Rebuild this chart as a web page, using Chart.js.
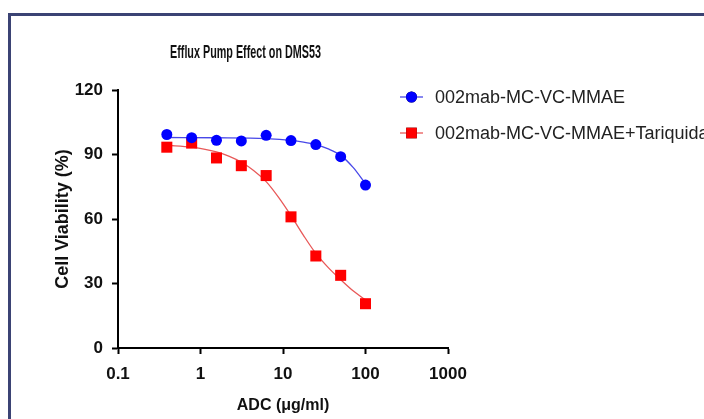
<!DOCTYPE html>
<html>
<head>
<meta charset="utf-8">
<script src="https://cdn.jsdelivr.net/npm/chart.js@4.4.0/dist/chart.umd.min.js"></script>
<style>
html, body { margin: 0; padding: 0; background: #fff; }
#wrap { position: relative; width: 704px; height: 419px; overflow: hidden; }
#frame { position: absolute; left: 8px; top: 13px; right: -10px; bottom: -10px;
         border-left: 3px solid #3b4374; border-top: 3px solid #3b4374; }
canvas { position: absolute; left: 0; top: 0; }
</style>
</head>
<body>
<div id="wrap">
  <div id="frame"></div>
  <canvas id="chart" width="704" height="419"></canvas>
</div>
<script>
const chartTitle = "Efflux Pump Effect on DMS53";
const xLabel = "ADC (μg/ml)";
const yLabel = "Cell Viability (%)";
const seriesNames = ["002mab-MC-VC-MMAE", "002mab-MC-VC-MMAE+Tariquidar"];

// doses (µg/ml), two-fold dilution
const doses = [0.390625, 0.78125, 1.5625, 3.125, 6.25, 12.5, 25, 50, 100];
const blueVals = [99.3, 97.8, 96.6, 96.3, 98.9, 96.5, 94.6, 89.0, 75.8];
const redVals = [93.4, 95.3, 88.4, 84.8, 80.2, 61.0, 42.8, 33.8, 20.6];

// fitted curves
const blueFitX = [0.390625, 1.5625, 6.25, 12.5, 17.7, 25, 35.4, 50, 70.7, 100];
const blueFitY = [97.9, 97.8, 97.4, 96.6, 95.8, 94.6, 92.6, 89.6, 84.0, 76.4];
const redFitX = [0.390625, 0.78125, 1.5625, 2.2, 3.125, 4.4, 6.25, 8.8, 12.5, 17.7, 25, 35.4, 50, 70.7, 100];
const redFitY = [94.3, 93.4, 91.2, 89.2, 86.4, 82.6, 77.4, 70.2, 61.6, 52.4, 44.0, 37.4, 31.8, 26.6, 22.4];

const xTicks = [0.1, 1, 10, 100, 1000];
const yTicks = [0, 30, 60, 90, 120];

const blueColor = "#0000ff";
const redColor = "#ff0000";

function toPoints(xs, ys) {
    return xs.map((x, i) => ({ x: x, y: ys[i] }));
}

const sans = "'Liberation Sans', Arial, sans-serif";

// title + legend drawn by hand, the way the figure has them
const decorations = {
    id: "decorations",
    afterDraw: chart => {
        const ctx = chart.ctx;
        ctx.save();
        // title (condensed)
        ctx.font = "bold 18px " + sans;
        ctx.fillStyle = "#111";
        ctx.textBaseline = "middle";
        ctx.textAlign = "left";
        const w = ctx.measureText(chartTitle).width;
        ctx.translate(170, 53);
        ctx.scale(151 / w, 1);
        ctx.fillText(chartTitle, 0, 0);
        ctx.restore();

        // legend
        const rows = [
            { y: 97, color: blueColor, line: "#4848e8", style: "circle", r: 5.5 },
            { y: 133, color: redColor, line: "#e85858", style: "rect", r: 7.5 }
        ];
        rows.forEach((row, i) => {
            ctx.save();
            ctx.strokeStyle = row.line;
            ctx.lineWidth = 1.3;
            ctx.beginPath();
            ctx.moveTo(400, row.y);
            ctx.lineTo(423, row.y);
            ctx.stroke();
            Chart.helpers.drawPoint(ctx, {
                pointStyle: row.style, radius: row.r, borderWidth: 0, rotation: 0
            }, 411.5, row.y);
            ctx.fillStyle = row.color;
            ctx.fill();
            ctx.font = "18px " + sans;
            ctx.fillStyle = "#222";
            ctx.textBaseline = "middle";
            ctx.fillText(seriesNames[i], 435, row.y + 1);
            ctx.restore();
        });
    }
};

const ctx = document.getElementById("chart").getContext("2d");

new Chart(ctx, {
    type: "line",
    data: {
        datasets: [
            {
                label: seriesNames[0],
                data: toPoints(doses, blueVals),
                showLine: false,
                pointStyle: "circle",
                pointRadius: 5.5,
                pointBackgroundColor: blueColor,
                pointBorderWidth: 0,
                order: 0
            },
            {
                label: seriesNames[1],
                data: toPoints(doses, redVals),
                showLine: false,
                pointStyle: "rect",
                pointRadius: 7.8,
                pointBackgroundColor: redColor,
                pointBorderWidth: 0,
                order: 0
            },
            {
                label: "fit 1",
                data: toPoints(blueFitX, blueFitY),
                borderColor: "#4848e8",
                borderWidth: 1.3,
                pointRadius: 0,
                cubicInterpolationMode: "monotone",
                order: 1
            },
            {
                label: "fit 2",
                data: toPoints(redFitX, redFitY),
                borderColor: "#e85858",
                borderWidth: 1.3,
                pointRadius: 0,
                cubicInterpolationMode: "monotone",
                order: 1
            }
        ]
    },
    options: {
        responsive: false,
        animation: false,
        layout: { padding: { left: 44, right: 256, top: 90, bottom: 0 } },
        plugins: {
            legend: { display: false },
            title: { display: false },
            tooltip: { enabled: false }
        },
        scales: {
            x: {
                type: "logarithmic",
                min: 0.1,
                max: 1000,
                afterBuildTicks: scale => {
                    scale.ticks = xTicks.map(v => ({ value: v }));
                },
                afterFit: scale => { scale.height = 71; },
                border: { display: true, color: "#000", width: 2 },
                grid: { drawOnChartArea: false, drawTicks: true, tickLength: 6, tickColor: "#000", tickWidth: 2 },
                ticks: {
                    autoSkip: false,
                    maxRotation: 0,
                    padding: 10,
                    color: "#111",
                    font: { family: sans, size: 17, weight: "bold" },
                    callback: v => String(v)
                },
                title: {
                    display: true,
                    text: xLabel,
                    color: "#111",
                    font: { family: sans, size: 16, weight: "bold" },
                    padding: { top: 0, bottom: 4 }
                }
            },
            y: {
                min: 0,
                max: 120,
                afterBuildTicks: scale => {
                    scale.ticks = yTicks.map(v => ({ value: v }));
                },
                afterFit: scale => { scale.width = 74; },
                border: { display: true, color: "#000", width: 2 },
                grid: { drawOnChartArea: false, drawTicks: true, tickLength: 6, tickColor: "#000", tickWidth: 2 },
                ticks: {
                    padding: 9,
                    color: "#111",
                    font: { family: sans, size: 17, weight: "bold" }
                },
                title: {
                    display: true,
                    text: yLabel,
                    color: "#111",
                    font: { family: sans, size: 18, weight: "bold" },
                    padding: { top: 8, bottom: 4 }
                }
            }
        }
    },
    plugins: [decorations]
});
</script>
</body>
</html>
